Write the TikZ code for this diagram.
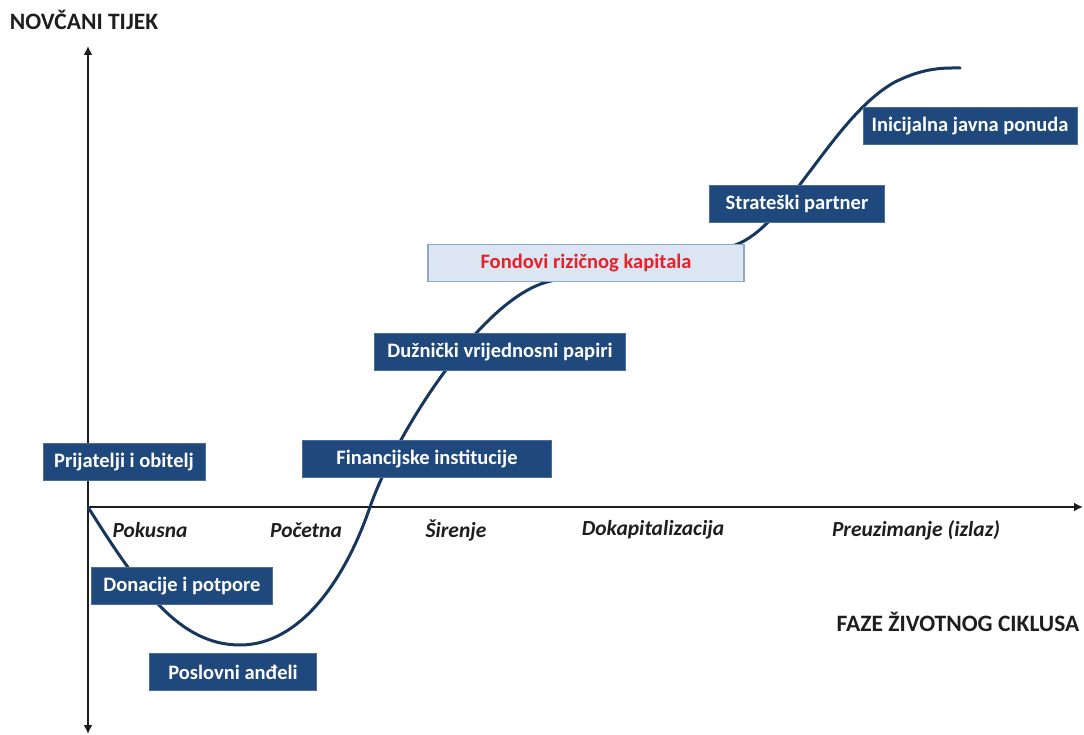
\documentclass[tikz,border=0pt]{standalone}
\usepackage{fontspec}
\setmainfont{Carlito}
\usetikzlibrary{positioning,arrows.meta}
\definecolor{boxblue}{HTML}{1F497D}
\definecolor{curveblue}{HTML}{17375E}
\definecolor{lightbox}{HTML}{DCE6F2}
\definecolor{lightedge}{HTML}{8EA9C8}
\definecolor{fundred}{HTML}{E8202A}
\definecolor{labelgray}{HTML}{1E1E1E}

\begin{document}
\begin{tikzpicture}[x=1pt,y=-1pt,
	finbox/.style={fill=boxblue, draw=boxblue!80!white, line width=0.8pt, text=white, font=\fontsize{20.5}{23}\selectfont\bfseries, minimum height=37, inner sep=0pt},
	fundbox/.style={finbox, fill=lightbox, draw=lightedge, line width=1.2pt, text=fundred},
	phase/.style={text=labelgray, font=\fontsize{21.5}{24}\selectfont\bfseries\itshape},
	axistitle/.style={text=labelgray, font=\fontsize{23.5}{26}\selectfont\bfseries},
	axis/.style={line width=2.4pt, labelgray, -{Latex[length=9pt,width=9pt]}}]
	\useasboundingbox (0,0) rectangle (1084,735);

	\coordinate (o) at (88,507);
	\coordinate (ytop) at (88,46);
	\coordinate (ybot) at (88,734);
	\coordinate (xend) at (1083,507);
	\draw[axis] (o) -- (ytop);
	\draw[axis] (o) -- (ybot);
	\draw[axis] (o) -- (xend);

	\node[axistitle] (ytitle) at (84,20) {NOVČANI TIJEK};
	\node[axistitle] (xtitle) at (958,622) {FAZE ŽIVOTNOG CIKLUSA};

	\node[phase] (pokusna) at (150,530) {Pokusna};
	\node[phase] (pocetna) at (306,530) {Početna};
	\node[phase] (sirenje) at (456,530) {Širenje};
	\node[phase] (dokap) at (653,530) {Dokapitalizacija};
	\node[phase] (preuz) at (916,530) {Preuzimanje (izlaz)};

	\draw[curveblue, line width=3pt, line cap=round] (o)
		.. controls (140,590) and (180,645) .. (240,645)
		.. controls (300,645) and (345,580) .. (370,507)
		.. controls (395,435) and (480,300) .. (547,282)
		.. controls (600,268) and (690,265) .. (740,243)
		.. controls (790,220) and (835,115) .. (895,82)
		.. controls (925,67) and (945,68) .. (960,68);

	\node[finbox, minimum width=162] (prijatelji) at (124,462) {Prijatelji i obitelj};
	\node[finbox, minimum width=181] (donacije) at (182,586) {Donacije i potpore};
	\node[finbox, minimum width=167] (andeli) at (233,672) {Poslovni anđeli};
	\node[finbox, minimum width=249] (institucije) at (427,459) {Financijske institucije};
	\node[finbox, minimum width=251] (papiri) at (500,352) {Dužnički vrijednosni papiri};
	\node[fundbox, minimum width=316] (fondovi) at (586,263) {Fondovi rizičnog kapitala};
	\node[finbox, minimum width=175] (partner) at (797,204) {Strateški partner};
	\node[finbox, minimum width=214] (ponuda) at (970,126) {Inicijalna javna ponuda};
\end{tikzpicture}
\end{document}
